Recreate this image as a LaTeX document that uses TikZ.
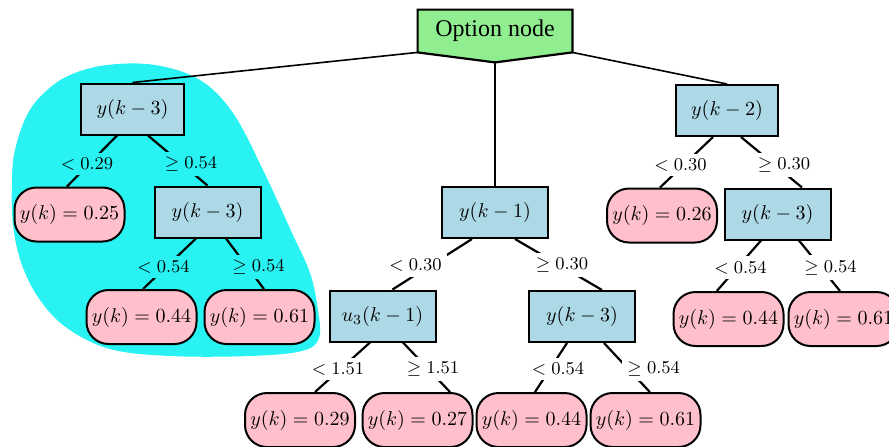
\documentclass[tikz,border=0pt]{standalone}
\usepackage{fontspec}
\newfontfamily\optfont{Liberation Serif}
\usepackage{tikz}
\usetikzlibrary{calc, backgrounds}
\definecolor{boxblue}{HTML}{ADD8E6}
\definecolor{leafpink}{HTML}{FFC0CB}
\definecolor{optgreen}{HTML}{90EE90}
\definecolor{groupcyan}{HTML}{28F2F2}

\begin{document}
\begin{tikzpicture}[
  x=0.5pt, y=-0.5pt,
  box/.style={
    draw, line width=1pt, fill=boxblue,
    minimum width=53pt, minimum height=25.5pt, inner sep=0pt
  },
  leaf/.style={
    draw, line width=1pt, fill=leafpink, rounded corners=11pt,
    minimum width=55pt, minimum height=27pt, inner sep=0pt
  },
  lbl/.style={font=\fontsize{8.6}{10}\selectfont, inner sep=2.5pt},
  link/.style={line width=1.1pt},
  toplink/.style={line width=0.8pt}
]
  \useasboundingbox (0,0) rectangle (889,446);

  \node[minimum width=77pt, minimum height=21pt, inner sep=0pt,
        font={\optfont\fontsize{12}{14}\selectfont}] (opt) at (495,31) {Option node};
  \coordinate (tip) at ($(opt.south)+(0,10)$);

  % splitting nodes
  \node[box, minimum width=51.5pt] (a) at (132.5,109) {$y(k-3)$};
  \node[box] (a2) at (207.5,212) {$y(k-3)$};
  \node[box] (m) at (495,212.5) {$y(k-1)$};
  \node[box] (mu) at (382.5,316) {$u_3(k-1)$};
  \node[box] (mr) at (582,316.5) {$y(k-3)$};
  \node[box, minimum width=51pt] (r) at (727,110.5) {$y(k-2)$};
  \node[box] (r2) at (777.5,214) {$y(k-3)$};

  % leaves
  \node[leaf] (l1) at (69.5,214.5) {$y(k)=0.25$};
  \node[leaf] (l2) at (141.5,317) {$y(k)=0.44$};
  \node[leaf] (l3) at (259.5,317) {$y(k)=0.61$};
  \node[leaf] (lu1) at (300,420) {$y(k)=0.29$};
  \node[leaf] (lu2) at (417.5,420) {$y(k)=0.27$};
  \node[leaf] (lm1) at (531.5,420) {$y(k)=0.44$};
  \node[leaf] (lm2) at (645.5,420) {$y(k)=0.61$};
  \node[leaf] (rl) at (662,215.5) {$y(k)=0.26$};
  \node[leaf] (rl1) at (728.5,319) {$y(k)=0.44$};
  \node[leaf] (rl2) at (843.5,319) {$y(k)=0.61$};

  \begin{scope}[on background layer]
    \fill[groupcyan] plot[smooth cycle, tension=0.6] coordinates {
      (107,65) (155,65) (200,80) (233,113) (263,170) (292,233) (310,273)
      (318,310) (319,338) (302,351) (250,356) (170,356) (110,349)
      (67,328) (40,300) (22,265) (13,225) (12,180) (15,150) (27,115) (45,92) (70,75)};
    \draw[line width=1.1pt, fill=optgreen]
      (opt.north west) -- (opt.north east) -- (opt.south east)
      -- (tip) -- (opt.south west) -- cycle;
  \end{scope}

  \draw[toplink] (opt.south west) -- (a.north);
  \draw[toplink] (tip) -- (m.north);
  \draw[toplink] (opt.south east) -- (r.north);

  \foreach \p/\c/\ds/\de in {a/l1/-15.5/-2.5, a/a2/15.5/0, a2/l2/-11.5/1.5,
      a2/l3/18.5/4.5, m/mu/-23/10, m/mr/20/20, mu/lu1/-12.5/15,
      mu/lu2/20.5/32.5, mr/lm1/-15/3.5, mr/lm2/22/4.3, r/rl/-14/-2,
      r/r2/14/24.5, r2/rl1/-16.5/-11.7, r2/rl2/21.5/-3.5}
    \draw[link] ($(\p.south)+(\ds,0)$) -- ($(\c.north)+(\de,0)$);

  \foreach \c/\lx/\ly/\bg/\t in {l1/87/164/groupcyan/{<0.29},
      a2/191/164/groupcyan/{\geq0.54}, l2/163.5/267/groupcyan/{<0.54},
      l3/258.5/267/groupcyan/{\geq0.54}, mu/415.5/265.5/white/{<0.30},
      mr/562/265/white/{\geq0.30}, lu1/338/369/white/{<1.51},
      lu2/433/369/white/{\geq1.51}, lm1/558/369/white/{<0.54},
      lm2/653.7/369/white/{\geq0.54}, rl/680.5/165/white/{<0.30},
      r2/784/165/white/{\geq0.30}, rl1/740.5/267.7/white/{<0.54},
      rl2/830.5/267.7/white/{\geq0.54}}
    \node[lbl, fill=\bg] (t-\c) at (\lx,\ly) {$\t$};
\end{tikzpicture}
\end{document}
